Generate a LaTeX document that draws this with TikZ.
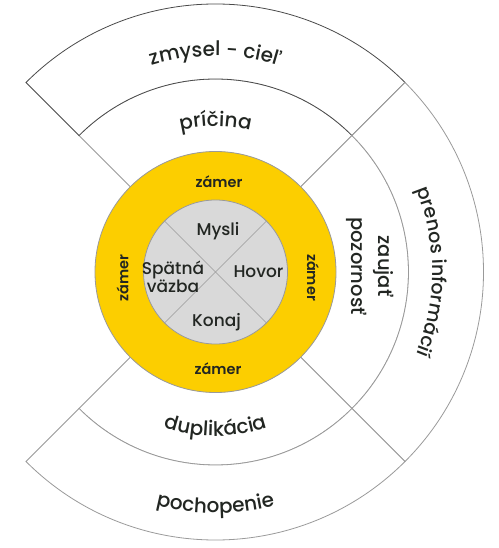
\documentclass[tikz,border=0pt]{standalone}
\usepackage{fontspec}
\setmainfont{Poppins}[UprightFont={* Medium}, BoldFont={* SemiBold}]
\usetikzlibrary{decorations.text}
\definecolor{ylw}{HTML}{FCCE00}
\definecolor{gfill}{HTML}{D9D9D9}
\definecolor{txt}{HTML}{222622}
\definecolor{edge}{HTML}{9A9A9A}
\definecolor{dedge}{HTML}{4A4A4A}
\newcommand\ringsector[5]{%
  \draw[#1] (#2:#4) arc[start angle=#2, end angle=#3, radius=#4] -- (#3:#5)
    arc[start angle=#3, end angle=#2, radius=#5] -- cycle;}
\newcommand\arctext[5]{%
  \path[decorate, decoration={text along path, text align=center, text color=txt,
    text={|\fontsize{#5}{#5}\selectfont|#1}}]
    (#2:#4) arc[start angle=#2, end angle=#3, radius=#4];}
\tikzset{
  sect/.style={draw=edge, fill=white, line width=0.8pt, line join=miter},
  dsect/.style={draw=dedge, fill=white, line width=0.8pt, line join=miter},
  lbl/.style={text=txt, inner sep=0pt, font=\fontsize{17}{18}\selectfont, align=center},
  zam/.style={text=txt, inner sep=0pt, font=\fontsize{14.5}{14.5}\selectfont\bfseries, anchor=base},
}
\begin{document}
\begin{tikzpicture}[x=1pt,y=1pt]
\useasboundingbox (-215.5,272) rectangle (282.5,-276);
% outer sectors
\ringsector{sect}{45}{135}{120pt}{193pt}
\ringsector{dsect}{45}{135}{193pt}{268pt}
\ringsector{sect}{-45}{45}{120pt}{193pt}
\ringsector{sect}{-45}{45}{193pt}{268pt}
\ringsector{sect}{225}{315}{120pt}{193pt}
\ringsector{sect}{225}{315}{193pt}{268pt}
% yellow ring and gray core
\node[circle, draw=edge, line width=0.8pt, fill=ylw, minimum size=241pt, inner sep=0pt] (ring) at (0,0) {};
\node[circle, draw=edge, line width=0.8pt, fill=gfill, minimum size=144pt, inner sep=0pt] (core) at (0,0) {};
\draw[edge, line width=0.7pt] (core.45) -- (core.225);
\draw[edge, line width=0.7pt] (core.135) -- (core.315);
% curved labels
\arctext{zmysel - cieľ}{135}{45}{216pt}{20}
\arctext{príčina}{135}{45}{146pt}{20}
\arctext{duplikácia}{225}{315}{164pt}{20}
\arctext{pochopenie}{225}{315}{241pt}{20}
\arctext{prenos informácií}{45}{-45}{217pt}{19}
\node[lbl, rotate=-90, font=\fontsize{19.5}{27}\selectfont] (zaujat) at (154.5,6) {zaujať\\pozornosť};
% zamer labels
\node[zam] (zt) at (3.5,84) {zámer};
\node[zam] (zb) at (2.5,-102) {zámer};
\node[zam, rotate=90] (zl) at (-87,-6) {zámer};
\node[zam, rotate=-90] (zr) at (91.5,-5.5) {zámer};
% core labels
\node[lbl, anchor=base] (mysli) at (2.5,36) {Mysli};
\node[lbl, anchor=base] (hovor) at (43,-6) {Hovor};
\node[lbl, anchor=base] (konaj) at (1,-55) {Konaj};
\node[lbl] (spatna) at (-42.5,-5) {Spätná\\väzba};
\end{tikzpicture}
\end{document}
